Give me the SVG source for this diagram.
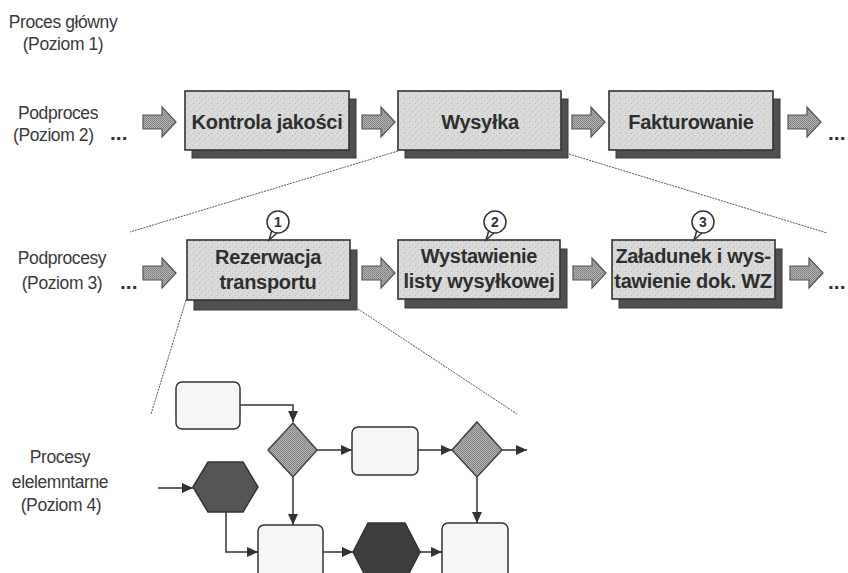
<svg xmlns="http://www.w3.org/2000/svg" width="848" height="573" viewBox="0 0 848 573">
<defs>
<pattern id="stip" width="6" height="6" patternUnits="userSpaceOnUse"><rect width="6" height="6" fill="#dadada"/><rect x="1" y="1" width="1" height="1" fill="#b0b0b0"/><rect x="4" y="3" width="1" height="1" fill="#bcbcbc"/><rect x="2" y="5" width="1" height="1" fill="#c4c4c4"/></pattern>
<pattern id="chk" width="2" height="2" patternUnits="userSpaceOnUse"><rect width="2" height="2" fill="#b4b4b4"/><rect width="1" height="1" fill="#7a7a7a"/><rect x="1" y="1" width="1" height="1" fill="#8a8a8a"/></pattern>
<marker id="ah" markerUnits="userSpaceOnUse" markerWidth="11" markerHeight="10" refX="11" refY="5" orient="auto"><path d="M0,0 L11,5 L0,10 z" fill="#333"/></marker>
<style>
.lbl{font-family:"Liberation Sans",Arial,sans-serif;font-size:17.5px;fill:#3a3a3a;letter-spacing:-0.4px}
.bt{font-family:"Liberation Sans",Arial,sans-serif;font-size:20px;font-weight:bold;fill:#2e2e2e;letter-spacing:-0.3px;text-anchor:middle}
.dots{font-family:"Liberation Sans",Arial,sans-serif;font-size:21px;font-weight:bold;fill:#333}
.box{fill:url(#stip);stroke:#333;stroke-width:1.6}
.shd{fill:#505050;stroke:#3a3a3a;stroke-width:1}
.barr{fill:url(#chk);stroke:#555;stroke-width:1.2}
.zl{fill:none;stroke:#555;stroke-width:1;stroke-dasharray:2 1}
.fr{fill:#f6f6f6;stroke:#333;stroke-width:1.5}
.dia{fill:url(#chk);stroke:#444;stroke-width:1.5}
.hex{stroke:#333;stroke-width:1.5}
.con{fill:none;stroke:#333;stroke-width:1.5;marker-end:url(#ah)}
.co{fill:#fff;stroke:#333;stroke-width:1.5}
.cn{font-family:"Liberation Sans",Arial,sans-serif;font-size:14px;font-weight:bold;fill:#333;text-anchor:middle}
</style>
</defs>
<rect width="848" height="573" fill="#fff"/>

<g id="labels">
<text class="lbl" x="63" y="28" text-anchor="middle">Proces główny</text>
<text class="lbl" x="63" y="50" text-anchor="middle">(Poziom 1)</text>
<text class="lbl" x="58" y="119" text-anchor="middle">Podproces</text>
<text class="lbl" x="13" y="141">(Poziom 2)</text>
<text class="dots" x="110" y="140">...</text>
<text class="dots" x="828" y="140">...</text>
<text class="lbl" x="62" y="264" text-anchor="middle">Podprocesy</text>
<text class="lbl" x="62" y="289" text-anchor="middle">(Poziom 3)</text>
<text class="dots" x="120" y="289">...</text>
<text class="dots" x="828" y="289">...</text>
<text class="lbl" x="60" y="463" text-anchor="middle">Procesy</text>
<text class="lbl" x="60" y="488" text-anchor="middle">elelemntarne</text>
<text class="lbl" x="61" y="511" text-anchor="middle">(Poziom 4)</text>
</g>

<g id="zoom-lines">
<line class="zl" x1="398" y1="151" x2="130" y2="232"/>
<line class="zl" x1="569" y1="154" x2="827" y2="233"/>
<line class="zl" x1="186" y1="300" x2="151" y2="414"/>
<line class="zl" x1="358" y1="309" x2="517" y2="414"/>
</g>

<g id="block-arrows">
<polygon class="barr" points="143,115 162,115 162,107 176,122 162,137 162,129 143,129"/>
<polygon class="barr" points="362,115 381,115 381,107 395,122 381,137 381,129 362,129"/>
<polygon class="barr" points="572,115 591,115 591,107 605,122 591,137 591,129 572,129"/>
<polygon class="barr" points="788,115 807,115 807,107 821,122 807,137 807,129 788,129"/>
<polygon class="barr" points="143,266 162,266 162,258 176,273 162,288 162,280 143,280"/>
<polygon class="barr" points="362,266 381,266 381,258 395,273 381,288 381,280 362,280"/>
<polygon class="barr" points="573,266 592,266 592,258 606,273 592,288 592,280 573,280"/>
<polygon class="barr" points="790,266 809,266 809,258 823,273 809,288 809,280 790,280"/>
</g>

<g id="n-kontrola">
<rect class="shd" x="192" y="99" width="164" height="59"/>
<rect class="box" x="185" y="91" width="164" height="59"/>
<text class="bt" x="267" y="129">Kontrola jakości</text>
</g>
<g id="n-wysylka">
<rect class="shd" x="405" y="99" width="163" height="59"/>
<rect class="box" x="398" y="91" width="163" height="59"/>
<text class="bt" x="480" y="129">Wysyłka</text>
</g>
<g id="n-fakturowanie">
<rect class="shd" x="616" y="99" width="164" height="59"/>
<rect class="box" x="609" y="91" width="164" height="59"/>
<text class="bt" x="691" y="129">Fakturowanie</text>
</g>

<g id="n-rezerwacja">
<rect class="shd" x="194" y="250" width="163" height="60"/>
<rect class="box" x="187" y="240" width="163" height="60"/>
<text class="bt" x="268" y="264">Rezerwacja</text>
<text class="bt" x="268" y="289">transportu</text>
</g>
<g id="n-wystawienie">
<rect class="shd" x="405" y="249" width="162" height="59"/>
<rect class="box" x="398" y="240" width="162" height="59"/>
<text class="bt" x="479" y="263">Wystawienie</text>
<text class="bt" x="479" y="288">listy wysyłkowej</text>
</g>
<g id="n-zaladunek">
<rect class="shd" x="619" y="249" width="163" height="59"/>
<rect class="box" x="612" y="240" width="163" height="59"/>
<text class="bt" x="693" y="263">Załadunek i wys-</text>
<text class="bt" x="693" y="288">tawienie dok. WZ</text>
</g>

<g id="callouts">
<path class="co" d="M272,230 L269,240 L277,233"/>
<circle class="co" cx="278" cy="222" r="11"/>
<text class="cn" x="278" y="227">1</text>
<path class="co" d="M489,230 L486,240 L494,233"/>
<circle class="co" cx="495" cy="222" r="11"/>
<text class="cn" x="495" y="227">2</text>
<path class="co" d="M697,230 L694,240 L702,233"/>
<circle class="co" cx="703" cy="222" r="11"/>
<text class="cn" x="703" y="227">3</text>
</g>

<g id="connectors">
<path class="con" d="M240,405 H293 V422"/>
<path class="con" d="M317,450 H352"/>
<path class="con" d="M418,450 H452"/>
<path class="con" d="M502,450 H527"/>
<path class="con" d="M158,488 H193"/>
<path class="con" d="M226,512 V552 H258"/>
<path class="con" d="M293,477 V525"/>
<path class="con" d="M323,552 H353"/>
<path class="con" d="M420,552 H442"/>
<path class="con" d="M477,477 V523"/>
</g>

<g id="f-rectA"><rect class="fr" x="176" y="382" width="64" height="47" rx="6"/></g>
<g id="f-diamond1"><polygon class="dia" points="293,423 317,450 293,477 268,450"/></g>
<g id="f-rectB"><rect class="fr" x="352" y="427" width="66" height="48" rx="6"/></g>
<g id="f-diamond2"><polygon class="dia" points="477,422 502,450 477,477 452,450"/></g>
<g id="f-hex1"><polygon class="hex" fill="#555" points="193,487 208,462 243,462 258,487 243,512 208,512"/></g>
<g id="f-rectC"><rect class="fr" x="258" y="525" width="65" height="62" rx="6"/></g>
<g id="f-hex2"><polygon class="hex" fill="#3e3e3e" points="353,552 368,523 405,523 420,552 405,581 368,581"/></g>
<g id="f-rectD"><rect class="fr" x="442" y="523" width="66" height="62" rx="6"/></g>
</svg>
